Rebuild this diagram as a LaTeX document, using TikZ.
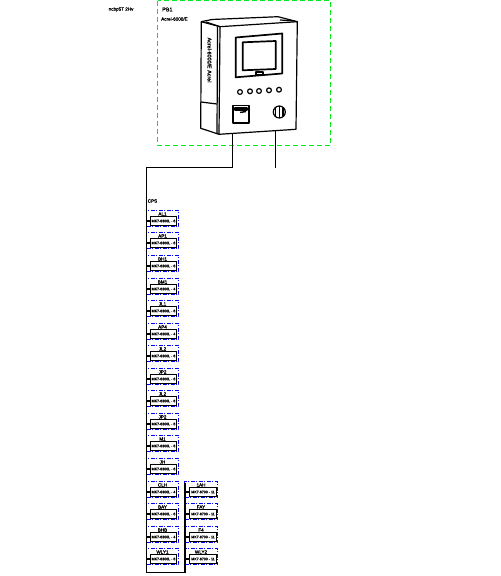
\documentclass[tikz,border=0pt]{standalone}
\usepackage{fontspec}
\setmainfont{Liberation Sans}
\newfontface\heavyf[FakeBold=1.5]{Liberation Sans}
\definecolor{fgreen}{RGB}{0,235,30}
\definecolor{fblue}{RGB}{0,0,255}
\tikzset{
 x=1bp,y=-1bp,
 frameg/.style={draw=fgreen,line width=1.5bp,dash pattern=on 5.5bp off 2.5bp},
 blueb/.style={draw=fblue,line width=1bp,dash pattern=on 4bp off 1.5bp on 1bp off 1.5bp,minimum height=16bp,inner sep=0pt,outer sep=0pt},
 modbox/.style={draw=black,line width=1.1bp,fill=white,minimum height=9bp,inner sep=0pt,outer sep=0pt,font=\fontsize{3.6pt}{4pt}\heavyf},
 tag/.style={font=\fontsize{4.6pt}{5pt}\heavyf,inner sep=0pt},
 wire/.style={draw=black,line width=1.1bp},
 cab/.style={draw=black,line width=1.2bp,line join=round},
}
% name, blue centre x, row y, label, text; \bw blue width, \iw inner width, \io inner offset
\newcommand{\modrow}[5]{%
 \node[blueb,minimum width=\bw bp] (#1b) at (#2,#3-2.5) {};
 \node[modbox,minimum width=\iw bp] (#1) at (#2+\io,#3) {#5};
 \node[tag] (#1t) at (#2,#3-7) {#4};
}
\begin{document}
\begin{tikzpicture}
\useasboundingbox (0,0) rectangle (501,576);
\fill[white] (0,0) rectangle (501,576);
\draw[frameg] (157.5,0.7) rectangle (330.5,145.5);
\node[tag,anchor=west] (title) at (108.5,9.5) {ncbp5T 2Hv};
\node[tag,anchor=west,font=\fontsize{5.5pt}{6pt}\heavyf] (pb) at (162,9.5) {PB1};
\node[tag,anchor=west] (acrel) at (161,19) {Acrel-6000/E};
% cabinet
\draw[cab] (201.3,21.7) -- (200.7,128.3) -- (219,134.3) -- (296,129.3) -- (297.3,21.7) -- (220,26.7) -- cycle;
\draw[cab] (220,26.7) -- (219,134.3);
\draw[cab] (217.5,27) -- (217,134);
\draw[cab] (201.3,21.7) -- (212,19.5) -- (278,16.7) -- (297.3,21.7);
\draw[cab] (206,22) -- (220,26.7);
\draw[cab] (280,20) -- (295,21);
\draw[cab] (201,102) -- (217,104);
\draw[cab,line width=1.7bp] (235.7,37.5) -- (282.3,33.5) -- (282.3,73.5) -- (235.7,77.3) -- cycle;
\draw[cab,line width=1.7bp] (242.7,42.3) -- (275.7,41) -- (275.7,69) -- (242.7,70.3) -- cycle;
\draw[cab] (256,72) rectangle (263,75);
\foreach \px/\py in {240/92,250/91.3,259/91,269/90.3,279/89.7}
  \draw[cab,line width=1.2bp] (\px,\py) circle (2.4);
\draw[cab,line width=1.7bp] (232.7,105.5) rectangle (248.7,123.3);
\draw[cab] (235,108) rectangle (247,110);
\draw[cab,line width=1.4bp] (240,112.5) -- (246,111.5);
\draw[cab] (279.3,112) circle (6);
\draw[cab] (279.3,106) -- (279.3,118) (275.5,108) -- (275.5,116) (283,108) -- (283,116);
\node[rotate=-90,font=\fontsize{5.4pt}{6pt}\heavyf,inner sep=0pt] (brand) at (209.5,60) {Acrel-6000/E Acrel};
\coordinate (c1) at (232.5,134);
\coordinate (c2) at (275.5,131);
\coordinate (bustop) at (146.5,167.5);
\coordinate (busend) at (146.5,572.5);
\coordinate (busr) at (185,572.5);
\coordinate (busrt) at (185,483);
\coordinate (w2) at (275.5,168);
\node[tag,anchor=west] (cps) at (147.5,201) {CPS};
\def\bw{32}\def\iw{26}\def\io{1}
\modrow{a}{162.5}{221}{AL1}{MK7-6300L - 6}
\modrow{b}{162.5}{243}{AP1}{MK7-6300L - 6}
\modrow{c}{162.5}{266}{BH1}{MK7-6300L - 6}
\modrow{d}{162.5}{289}{BM1}{MK7-6300L - 4}
\modrow{e}{162.5}{311}{JL1}{MK7-6300L - 6}
\modrow{f}{162.5}{334}{AP4}{MK7-6300L - 4}
\modrow{g}{162.5}{356}{JL2}{MK7-6300L - 6}
\modrow{h}{162.5}{379}{JP2}{MK7-6300L - 6}
\modrow{i}{162.5}{401}{JL2}{MK7-6300L - 6}
\modrow{j}{162.5}{424}{JP2}{MK7-6300L - 6}
\modrow{k}{162.5}{446}{M1}{MK7-6300L - 6}
\modrow{l}{162.5}{469}{JH}{MK7-6300L - 6}
\modrow{m}{162.5}{492}{CLH}{MK7-6300L - 4}
\modrow{n}{162.5}{514}{BAY}{MK7-6300L - 6}
\modrow{o}{162.5}{537}{BHB}{MK7-6300L - 4}
\modrow{p}{162.5}{559}{WLY1}{MK7-6300L - 6}
\def\bw{33}\def\iw{27}\def\io{2}
\modrow{q}{201}{492}{1AH}{MK7-6700 - 11}
\modrow{r}{201}{514}{FAY}{MK7-6700 - 11}
\modrow{s}{201}{537}{F4}{MK7-6700 - 11}
\modrow{u}{201}{559}{WLY2}{MK7-6700 - 11}
\draw[wire] (c1) |- (bustop) -- (busend) -- (busr) -- (busrt);
\draw[wire] (c2) -- (w2);
\foreach \n in {a,b,c,d,e,f,g,h,i,j,k,l,m,n,o,p}
  \draw[wire] (\n.west) -- (\n.west -| bustop);
\foreach \n in {q,r,s,u}
  \draw[wire] (\n.west) -- (\n.west -| busr);
\end{tikzpicture}
\end{document}
